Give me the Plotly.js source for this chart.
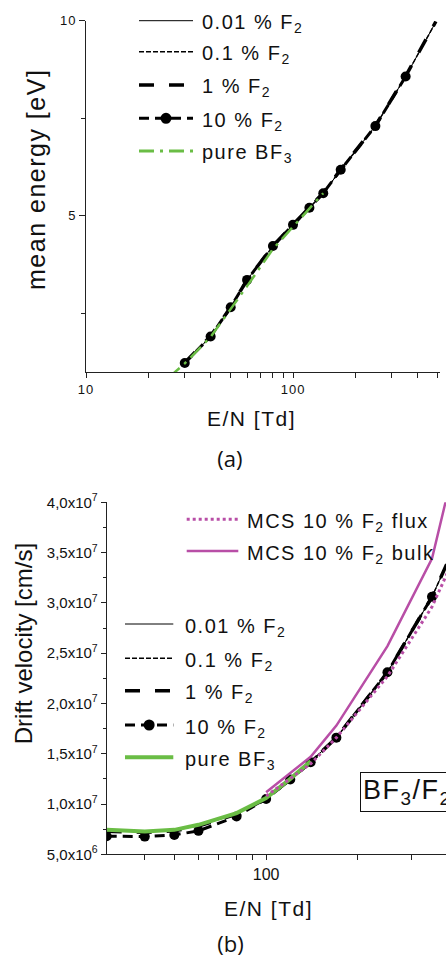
<!DOCTYPE html>
<html><head><meta charset="utf-8">
<script src="https://cdn.plot.ly/plotly-3.0.1.min.js"></script>
<style>
html,body{margin:0;padding:0;background:#fff;overflow:hidden}
#chart{width:446px;height:958px}
.annotation-text{letter-spacing:1.5px}
g.annotation[data-index="13"] .annotation-text,
g.annotation[data-index="16"] .annotation-text,
g.annotation[data-index="17"] .annotation-text{letter-spacing:0}
g.xtick text, g.ytick text{letter-spacing:1px}
</style>
</head><body><div id="chart"></div>
<script>
// ---------- data: panel (a) mean energy ----------
const enA = [30, 40, 50, 60, 80, 100, 120, 140, 170, 250, 350, 490];
const energy001 = [1.23, 1.91, 2.66, 3.36, 4.23, 4.77, 5.21, 5.58, 6.18, 7.30, 8.57, 9.97];
const energy01  = [1.23, 1.91, 2.65, 3.35, 4.22, 4.77, 5.21, 5.58, 6.18, 7.30, 8.57, 9.97];
const energy1   = [1.24, 1.92, 2.66, 3.36, 4.23, 4.78, 5.22, 5.59, 6.19, 7.31, 8.58, 9.98];
const enA10 = [30, 40, 50, 60, 80, 100, 120, 140, 170, 250, 350];
const energy10  = [1.23, 1.91, 2.66, 3.36, 4.23, 4.77, 5.21, 5.58, 6.18, 7.30, 8.57];
const enABF3 = [25, 30, 40, 50, 60, 80, 100, 120, 140];
const energyBF3 = [0.85, 1.22, 1.90, 2.60, 3.20, 4.15, 4.72, 5.20, 5.58];

// ---------- data: panel (b) drift velocity ----------
const enB = [30, 40, 50, 60, 80, 100, 120, 140, 170, 250, 350, 500];
const vd001 = [7.40e6, 7.25e6, 7.40e6, 7.88e6, 9.05e6, 10.55e6, 12.45e6, 14.20e6, 16.60e6, 23.10e6, 30.60e6, 41.0e6];
const vd01  = [7.38e6, 7.24e6, 7.38e6, 7.86e6, 9.03e6, 10.54e6, 12.45e6, 14.20e6, 16.60e6, 23.10e6, 30.60e6, 41.0e6];
const vd1   = [7.30e6, 7.18e6, 7.33e6, 7.80e6, 9.00e6, 10.52e6, 12.44e6, 14.18e6, 16.60e6, 23.10e6, 30.60e6, 41.0e6];
const enB10 = [30, 40, 50, 60, 80, 100, 120, 140, 170, 250, 350];
const vd10  = [6.80e6, 6.76e6, 6.93e6, 7.33e6, 8.76e6, 10.50e6, 12.43e6, 14.16e6, 16.60e6, 23.10e6, 30.60e6];
const enBBF3 = [30, 40, 50, 60, 80, 100, 120, 140];
const vdBF3 = [7.43e6, 7.26e6, 7.43e6, 7.93e6, 9.10e6, 10.60e6, 12.50e6, 14.26e6];
const enMCS = [100, 140, 170, 250, 350, 500];
const vdFlux = [10.8e6, 14.0e6, 16.6e6, 22.7e6, 29.6e6, 40.0e6];
const vdBulk = [11.16e6, 14.7e6, 17.8e6, 25.7e6, 34.4e6, 54.0e6];

// ---------- ticks & labels ----------
const xTicksA = [10, 100];
const xTickTextA = ['10', '100'];
const xMinorA = [20, 30, 40, 50, 60, 70, 80, 90, 200, 300, 400, 500];
const yTicksA = [5, 10];
const yTickTextA = ['5', '10'];
const yMinorA = [2.5, 7.5];
const xTicksB = [100];
const xTickTextB = ['100'];
const xMinorB = [40, 50, 60, 70, 80, 90, 200, 300, 400];
const yTicksB = [5e6, 1e7, 1.5e7, 2e7, 2.5e7, 3e7, 3.5e7, 4e7];
const yTickTextB = ['5,0x10<sup>6</sup>', '1,0x10<sup>7</sup>', '1,5x10<sup>7</sup>', '2,0x10<sup>7</sup>',
                    '2,5x10<sup>7</sup>', '3,0x10<sup>7</sup>', '3,5x10<sup>7</sup>', '4,0x10<sup>7</sup>'];
const yMinorB = [7.5e6, 12.5e6, 17.5e6, 22.5e6, 27.5e6, 32.5e6, 37.5e6];

const namesF2 = ['0.01 % F<sub>2</sub>', '0.1 % F<sub>2</sub>', '1 % F<sub>2</sub>', '10 % F<sub>2</sub>', 'pure BF<sub>3</sub>'];
const namesMCS = ['MCS 10 % F<sub>2</sub> flux', 'MCS 10 % F<sub>2</sub> bulk'];

// ---------- styles ----------
const W = 446, H = 958;
const FONT = 'Liberation Sans, Arial, sans-serif';
const GREEN = '#6abd45';
const MAG = '#b84ea6';
const AX = '#222';
const px = x => x / W;
const py = y => 1 - y / H;

const sty = {
  s001: {color: '#000', width: 1},
  s01: {color: '#000', width: 1.5, dash: '5px,2px'},
  s1: {color: '#000', width: 3.5, dash: '15px,15px'},
  s10: {color: '#000', width: 3, dash: '10px,6px'},
  bf3a: {color: GREEN, width: 2.5, dash: '15px,6px,3px,6px'},
  bf3b: {color: GREEN, width: 4},
  flux: {color: MAG, width: 3, dash: '3px,3px'},
  bulk: {color: MAG, width: 2.5}
};

function tr(x, y, ax, line, name, markers) {
  const t = {x: x, y: y, xaxis: ax[0], yaxis: ax[1], mode: markers ? 'lines+markers' : 'lines',
    line: line, name: name.replace(/<[^>]+>/g, ''), showlegend: false, hoverinfo: 'skip'};
  if (markers) t.marker = {size: 10, color: '#000'};
  return t;
}
const A = ['x', 'y'], B = ['x2', 'y2'];
const data = [
  tr(enA, energy001, A, sty.s001, namesF2[0]),
  tr(enA, energy01, A, sty.s01, namesF2[1]),
  tr(enA, energy1, A, sty.s1, namesF2[2]),
  tr(enA10, energy10, A, sty.s10, namesF2[3], true),
  tr(enABF3, energyBF3, A, sty.bf3a, namesF2[4]),
  tr(enB, vd001, B, sty.s001, namesF2[0]),
  tr(enB, vd01, B, sty.s01, namesF2[1]),
  tr(enB, vd1, B, sty.s1, namesF2[2]),
  tr(enB10, vd10, B, sty.s10, namesF2[3], true),
  tr(enBBF3, vdBF3, B, sty.bf3b, namesF2[4]),
  tr(enMCS, vdFlux, B, sty.flux, namesMCS[0]),
  tr(enMCS, vdBulk, B, sty.bulk, namesMCS[1])
];

// ---------- hand-drawn legends ----------
const shapes = [], annotations = [];
function legendRow(x0, x1, y, line, label, marker, tx) {
  shapes.push({type: 'line', xref: 'paper', yref: 'paper', x0: px(x0), x1: px(x1), y0: py(y), y1: py(y), line: line});
  if (marker) {
    const cx = (x0 + x1) / 2, r = 5.5;
    shapes.push({type: 'circle', xref: 'paper', yref: 'paper', x0: px(cx - r), x1: px(cx + r), y0: py(y + r), y1: py(y - r),
      fillcolor: '#000', line: {width: 0}});
  }
  annotations.push({xref: 'paper', yref: 'paper', x: px(tx), y: py(y), xanchor: 'left', yanchor: 'middle', yshift: -3,
    showarrow: false, text: label, font: {family: FONT, size: 20, color: '#111'}});
}
const legA = [20.7, 51.7, 85, 118.3, 151];
const stA = [sty.s001, sty.s01, sty.s1, sty.s10, {color: GREEN, width: 3, dash: '15px,6px,3px,6px'}];
legA.forEach((y, i) => legendRow(139, 193, y, stA[i], namesF2[i], i === 3, 200));
const legB = [624, 658.3, 690.7, 725, 757.3];
const stB = [sty.s001, sty.s01, sty.s1, sty.s10, sty.bf3b];
legB.forEach((y, i) => legendRow(125, 173.3, y, stB[i], namesF2[i], i === 3, 183.3));
legendRow(186.7, 238.3, 519.3, sty.flux, namesMCS[0], false, 245);
legendRow(186.7, 238.3, 551, sty.bulk, namesMCS[1], false, 245);

function txt(x, y, text, size, extra) {
  return Object.assign({xref: 'paper', yref: 'paper', x: px(x), y: py(y), xanchor: 'center', yanchor: 'middle',
    showarrow: false, text: text, font: {family: FONT, size: size, color: '#111'}}, extra || {});
}
annotations.push(txt(36, 180, 'mean energy [eV]', 25, {textangle: -90}));        // 12
annotations.push(txt(23, 644, 'Drift velocity [cm/s]', 24, {textangle: -90}));   // 13
annotations.push(txt(252, 418, 'E/N [Td]', 21));                                 // 14
annotations.push(txt(268, 908, 'E/N [Td]', 21));                                 // 15
annotations.push(txt(230, 458, '(a)', 22, {font: {family: 'Open Sans, sans-serif', size: 22, color: '#111'}})); // 16
annotations.push(txt(230, 943, '(b)', 22, {font: {family: 'Open Sans, sans-serif', size: 22, color: '#111'}})); // 17
annotations.push({xref: 'paper', yref: 'paper', x: px(359.5), y: py(792), xanchor: 'left', yanchor: 'middle',
  showarrow: false, text: 'BF<sub>3</sub>/F<sub>2</sub>', font: {family: FONT, size: 27, color: '#111'},
  bordercolor: '#111', borderwidth: 1, borderpad: 2, bgcolor: '#fff'});                                         // 18

function axBase() {
  return {showline: true, linecolor: AX, linewidth: 1, ticks: 'outside', tickcolor: AX, tickwidth: 1,
    showgrid: false, zeroline: false, fixedrange: true, tickmode: 'array'};
}
const layout = {
  width: W, height: H, margin: {l: 0, r: 0, t: 0, b: 0}, paper_bgcolor: '#fff', plot_bgcolor: 'rgba(0,0,0,0)',
  showlegend: false, font: {family: FONT, color: '#111'},
  xaxis: Object.assign(axBase(), {domain: [px(86), px(440)], anchor: 'y', type: 'log', range: [1, 2.7101],
    tickvals: xTicksA, ticktext: xTickTextA, ticklen: 5, tickfont: {size: 13, family: FONT, color: '#111'},
    minor: {tickmode: 'array', tickvals: xMinorA, ticks: 'outside', ticklen: 5, tickcolor: AX}}),
  yaxis: Object.assign(axBase(), {domain: [py(372), py(20.7)], anchor: 'x', range: [1, 10],
    tickvals: yTicksA, ticktext: yTickTextA, ticklen: 6, tickfont: {size: 13, family: FONT, color: '#111'},
    minor: {tickmode: 'array', tickvals: yMinorA, ticks: 'outside', ticklen: 4, tickcolor: AX}}),
  xaxis2: Object.assign(axBase(), {domain: [px(106.7), 1], anchor: 'y2', type: 'log', range: [Math.log10(30), 2.590],
    tickvals: xTicksB, ticktext: xTickTextB, ticklen: 5, tickfont: {size: 16, family: FONT, color: '#111'},
    minor: {tickmode: 'array', tickvals: xMinorB, ticks: 'outside', ticklen: 5, tickcolor: AX}}),
  yaxis2: Object.assign(axBase(), {domain: [py(854.3), py(502.3)], anchor: 'x2', range: [5e6, 4e7],
    tickvals: yTicksB, ticktext: yTickTextB, ticklen: 5, tickfont: {size: 15, family: FONT, color: '#111'},
    minor: {tickmode: 'array', tickvals: yMinorB, ticks: 'outside', ticklen: 3, tickcolor: AX}}),
  shapes: shapes, annotations: annotations
};
Plotly.newPlot('chart', data, layout, {staticPlot: true, displayModeBar: false});
</script></body></html>
